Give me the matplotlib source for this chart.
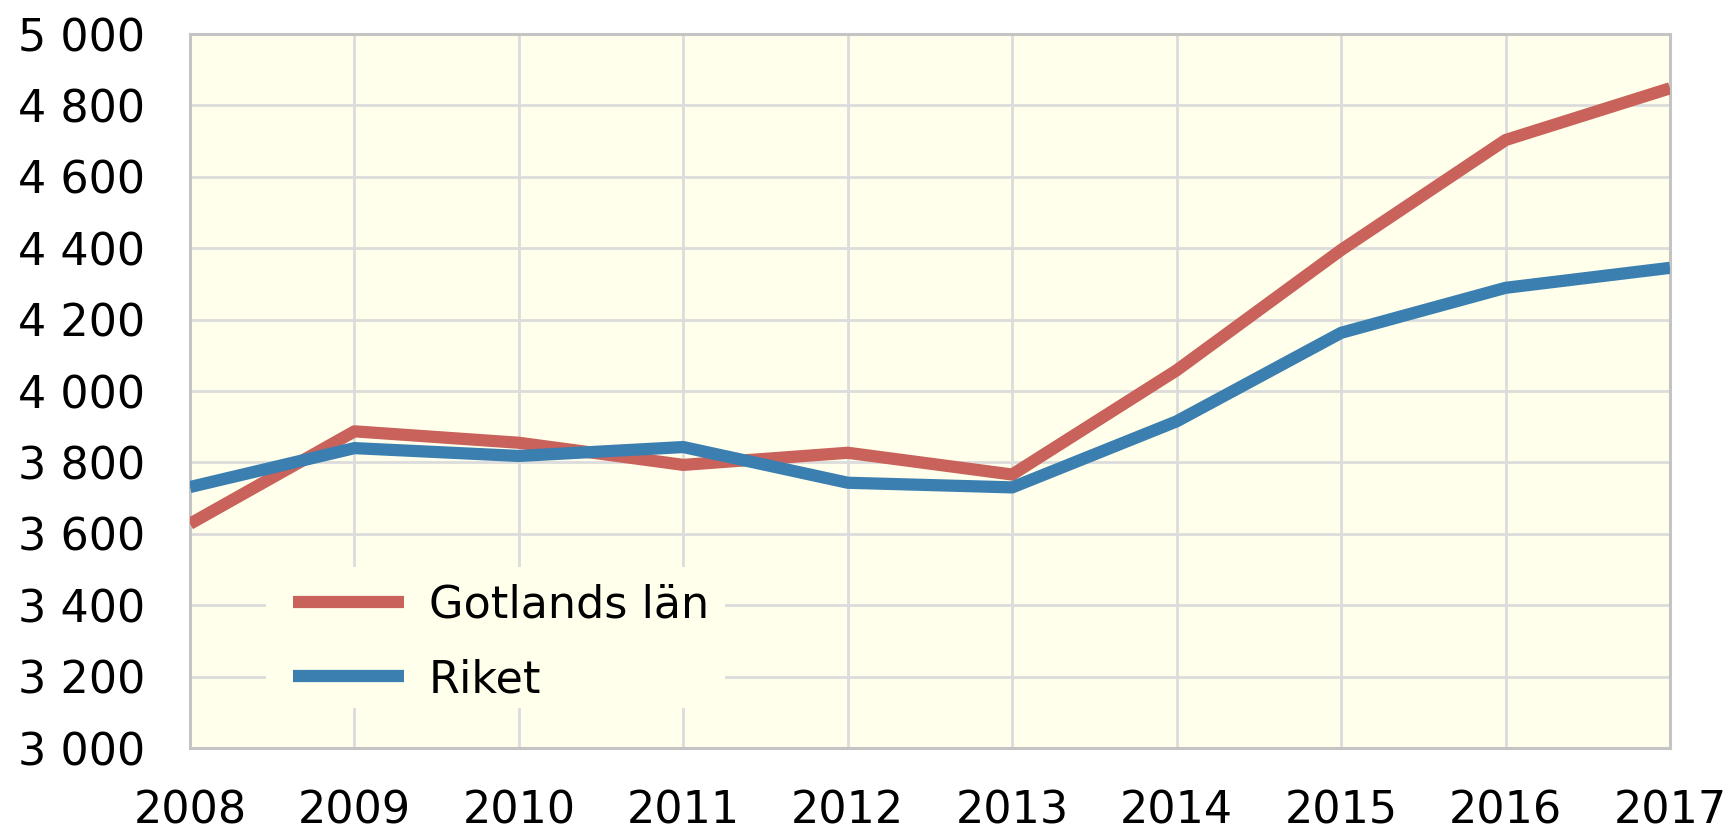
import matplotlib
matplotlib.use("Agg")
import matplotlib.pyplot as plt
from matplotlib.patches import Rectangle
from matplotlib.ticker import FuncFormatter

years = [2008, 2009, 2010, 2011, 2012, 2013, 2014, 2015, 2016, 2017]
gotland = [3628, 3887, 3855, 3793, 3827, 3766, 4058, 4395, 4703, 4848]
riket = [3731, 3840, 3818, 3843, 3743, 3730, 3915, 4163, 4289, 4345]
series_names = ["Gotlands län", "Riket"]
yticks = list(range(3000, 5001, 200))

bg = "#FFFFEB"
red = "#C9625A"
blue = "#3B7FB0"

plt.rcParams['font.family'] = ['DejaVu Sans']
fig = plt.figure(figsize=(17.35, 8.30), dpi=100)
ax = fig.add_axes([190/1735, (830-748)/830, (1670-190)/1735, (748-34)/830])
ax.set_facecolor(bg)

ax.plot(years, gotland, color=red, lw=8.8, label=series_names[0], solid_capstyle='butt', zorder=3)
ax.plot(years, riket, color=blue, lw=8.8, label=series_names[1], solid_capstyle='butt', zorder=3)

ax.set_xlim(2008, 2017)
ax.set_ylim(3000, 5000)
ax.set_xticks(years)
ax.set_yticks(yticks)
ax.yaxis.set_major_formatter(FuncFormatter(lambda v, p: f"{int(v):,}".replace(",", " ")))
ax.grid(True, color="#DCDCDC", lw=2.0, zorder=0.5)
ax.set_axisbelow(True)
ax.tick_params(axis='both', length=0, labelsize=32, colors='black')
ax.tick_params(axis='y', pad=32)
ax.tick_params(axis='x', pad=30)
for s in ax.spines.values():
    s.set_color("#C4C4C4")
    s.set_linewidth(2.2)

# legend background masking the grid
ax.add_patch(Rectangle((76/1480, 40/714), 459/1480, 141/714, transform=ax.transAxes,
                       facecolor=bg, edgecolor='none', zorder=1))

leg = ax.legend(loc='lower left', bbox_to_anchor=(103/1480, 47/714), borderaxespad=0,
                fontsize=32, frameon=False,
                handlelength=2.5, handletextpad=0.56, labelspacing=0.7, borderpad=0)
leg.set_zorder(2)

fig.savefig("out.png", dpi=100, facecolor="white")
